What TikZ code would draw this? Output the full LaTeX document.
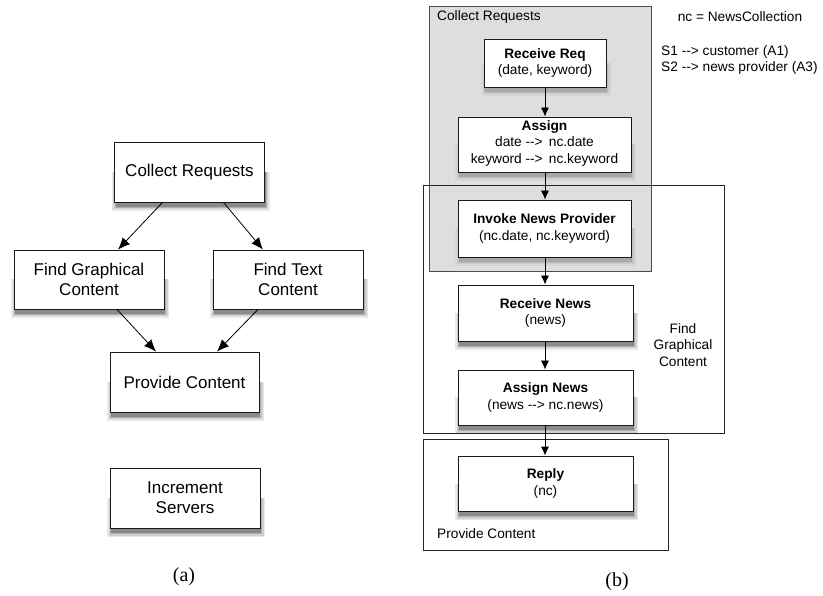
\documentclass[tikz,border=0pt]{standalone}
\usepackage{fontspec}
\setmainfont{Liberation Sans}
\newfontfamily\capfont{Liberation Serif}
\usetikzlibrary{arrows.meta}

% "-->" typed as two hyphens and a bracket, without the en-dash ligature
\newcommand{\dasharr}{-{}->}

% soft shadow under a box given by centre x, centre y, width, height (y grows downwards);
% the optional argument picks the grey ramp
\newcommand{\castshadow}[5][black!9/black!19/black!31/black!46]{%
  \foreach \ca/\cb/\cc/\cd in {#1} {
    \fill[\ca] ({#2-#4/2-3},{#3}) rectangle ({#2+#4/2+5},{#3+#5/2+9});
    \fill[\cb] ({#2-#4/2-1.5},{#3}) rectangle ({#2+#4/2+3.5},{#3+#5/2+7.5});
    \fill[\cc] ({#2-#4/2},{#3}) rectangle ({#2+#4/2+2},{#3+#5/2+6});
    \fill[\cd] ({#2-#4/2+1},{#3}) rectangle ({#2+#4/2+1},{#3+#5/2+4.8});
  }}

\tikzset{
  box/.style={draw=black!90, line width=0.8pt, fill=white, inner sep=2pt, align=center},
  abox/.style={box, minimum width=150pt, minimum height=60pt, font=\fontsize{17}{20}\selectfont},
  bbox/.style={box, minimum width=175pt, minimum height=55pt, font=\fontsize{13.7}{16.5}\selectfont},
  gframe/.style={draw=black!70, fill=black!13, line width=0.7pt, inner sep=0pt},
  wframe/.style={draw=black!85, line width=0.7pt, inner sep=0pt},
  aedge/.style={-{Latex[length=12pt,width=10pt]}, line width=0.8pt},
  bedge/.style={-{Latex[length=9pt,width=8pt]}, line width=0.8pt},
  lbl/.style={font=\fontsize{13.7}{16.5}\selectfont, inner sep=0pt},
  caption/.style={font=\capfont\fontsize{20}{24}\selectfont, inner sep=0pt}
}

\begin{document}
\begin{tikzpicture}[x=1pt,y=-1pt]
\useasboundingbox (0,0) rectangle (823,596);

% ---------- (a) coarse process ----------
\castshadow{189.5}{172}{150}{60}
\castshadow{89}{279.5}{150}{59}
\castshadow{288}{279.5}{150}{59}
\castshadow{184.5}{382}{149}{60}
\castshadow{185}{498}{150}{60}

\node[abox] (cr) at (189.5,172) {Collect Requests};
\node[abox, minimum height=59pt] (fg) at (89,279.5) {Find Graphical\\Content};
\node[abox, minimum height=59pt] (ft) at (288,279.5) {Find Text\\Content};
\node[abox, minimum width=149pt] (pc) at (184.5,382) {Provide Content};
\node[abox] (is) at (185,498) {Increment\\Servers};

\draw[aedge] ([xshift=-27pt]cr.south) -- ([xshift=29pt]fg.north);
\draw[aedge] ([xshift=34pt]cr.south) -- ([xshift=-25pt]ft.north);
\draw[aedge] ([xshift=28pt]fg.south) -- ([xshift=-28.5pt]pc.north);
\draw[aedge] ([xshift=-30pt]ft.south) -- ([xshift=32.5pt]pc.north);

\node[caption] (capa) at (184,577) {(a)};

% ---------- (b) refined process ----------
\node[gframe, minimum width=222pt, minimum height=265pt] (collect) at (540,138.5) {};

\castshadow[black!16/black!20/black!26/black!34]{545}{63}{122}{48}
\castshadow[black!16/black!20/black!26/black!34]{544.5}{144.5}{173}{55}
\castshadow[black!16/black!20/black!26/black!34]{544.5}{228.5}{173}{57}
\castshadow{545.5}{313}{175}{56}
\castshadow{545.5}{397.5}{175}{55}
\castshadow{545.5}{483.5}{175}{55}

\node[wframe, minimum width=301pt, minimum height=248pt] (findg) at (573.5,309) {};
\node[wframe, minimum width=245pt, minimum height=111pt] (provide) at (545.5,494.5) {};

\node[lbl, anchor=west] (collectlbl) at (437,17) {Collect Requests};
\node[lbl, align=center] (findlbl) at (683,345) {Find\\Graphical\\Content};
\node[lbl, anchor=west] (providelbl) at (437,534) {Provide Content};

\node[bbox, minimum width=122pt, minimum height=48pt] (rr) at (545,63)
  {\textbf{Receive Req}\\(date, keyword)};
\node[bbox, minimum width=173pt] (as) at (544.5,144.5)
  {\textbf{Assign}\\
   \begin{tabular}[t]{@{}r@{\hspace{0.45em}}l@{}}
   date \dasharr & nc.date\\
   keyword \dasharr & nc.keyword
   \end{tabular}};
\node[bbox, minimum width=173pt, minimum height=57pt] (inv) at (544.5,228.5)
  {\textbf{Invoke News Provider}\\(nc.date, nc.keyword)};
\node[bbox, minimum height=56pt] (rn) at (545.5,313)
  {\textbf{Receive News}\\(news)};
\node[bbox] (an) at (545.5,397.5)
  {\textbf{Assign News}\\(news \dasharr\ nc.news)};
\node[bbox] (rp) at (545.5,483.5)
  {\textbf{Reply}\\(nc)};

\draw[bedge] (rr.south) -- (rr.south |- as.north);
\draw[bedge] (rr.south |- as.south) -- (rr.south |- inv.north);
\draw[bedge] (rr.south |- inv.south) -- (rr.south |- rn.north);
\draw[bedge] (rr.south |- rn.south) -- (rr.south |- an.north);
\draw[bedge] (rr.south |- an.south) -- (rr.south |- rp.north);

\node[lbl] (ncnote) at (740,17) {nc = NewsCollection};
\node[lbl, align=left, anchor=west] (snote) at (661,60)
  {S1 \dasharr\ customer (A1)\\S2 \dasharr\ news provider (A3)};

\node[caption] (capb) at (617,582) {(b)};
\end{tikzpicture}
\end{document}
